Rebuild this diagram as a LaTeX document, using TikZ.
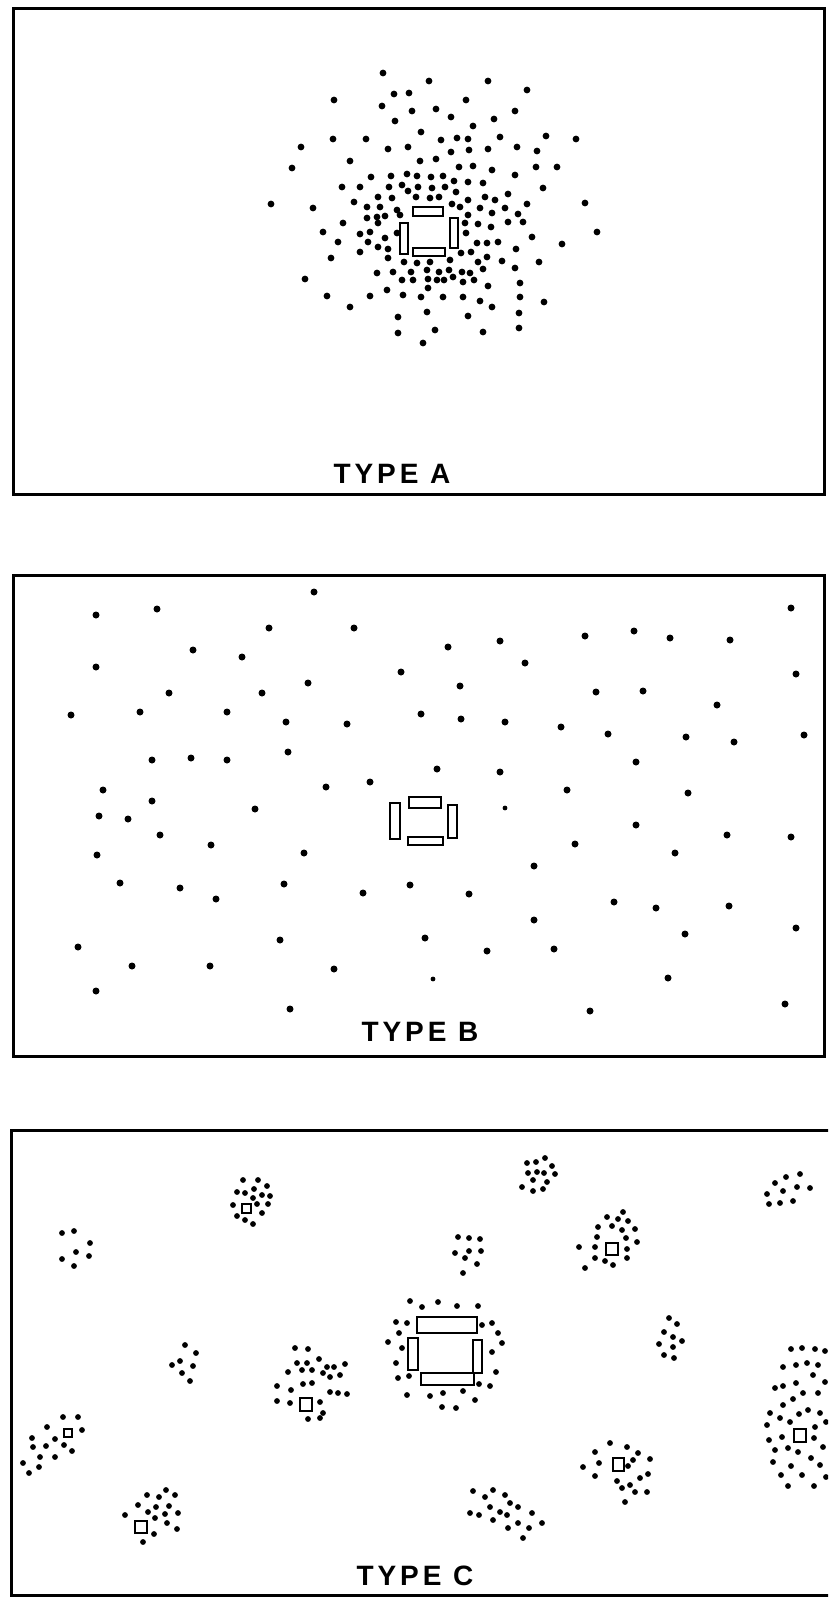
\documentclass[tikz,border=0pt]{standalone}
\usepackage{fontspec}
\newfontfamily\labfont[LetterSpace=14]{Liberation Sans}
\begin{document}
\begin{tikzpicture}[x=1pt,y=-1pt,
  panel/.style={draw=black,line width=3pt},
  lab/.style={font=\labfont\bfseries\fontsize{28}{28}\selectfont,inner sep=0pt,anchor=center},
  desk/.style={draw=black,line width=1.6pt,fill=white},
  deskc/.style={draw=black,line width=2pt,fill=white},
  dotfill/.style={fill=black}]
\useasboundingbox (0,0) rectangle (828,1598);
\clip (0,0) rectangle (828,1598);
\fill[white] (0,0) rectangle (828,1598);
% panels
\draw[panel] (13,8) rectangle (824,494);
\draw[panel] (13,575) rectangle (824,1056);
\draw[panel] (11,1130) rectangle (860,1595);
% ---------- TYPE A ----------
\foreach \x/\y in {383/73, 429/81, 488/81, 527/90, 334/100, 394/94, 409/93, 382/106, 466/100, 412/111, 436/109, 515/111, 451/117, 395/121, 494/119, 473/126, 421/132, 500/137, 546/136, 576/139, 333/139, 366/139, 441/140, 457/138, 468/139, 301/147, 388/149, 408/147, 451/152, 469/150, 488/149, 517/147, 537/151, 292/168, 350/161, 420/161, 436/159, 459/167, 473/166, 492/170, 515/175, 536/167, 557/167, 371/177, 391/176, 407/174, 417/176, 431/177, 443/176, 454/181, 468/182, 483/183, 342/187, 360/187, 389/187, 402/185, 418/187, 432/188, 445/187, 543/188, 508/194, 271/204, 313/208, 354/202, 378/197, 392/198, 408/191, 416/197, 430/198, 439/197, 456/192, 468/200, 485/197, 495/200, 527/204, 585/203, 367/207, 380/207, 397/210, 452/204, 460/207, 480/208, 492/213, 505/208, 377/217, 385/216, 367/218, 400/215, 468/215, 518/214, 343/223, 378/223, 465/223, 478/224, 491/227, 508/222, 523/222, 323/232, 360/234, 370/232, 385/238, 397/233, 466/233, 532/237, 597/232, 338/242, 368/242, 378/247, 388/249, 477/243, 487/243, 498/242, 562/244, 331/258, 360/252, 388/258, 404/262, 417/263, 430/262, 450/260, 461/253, 471/252, 478/262, 487/257, 502/261, 516/249, 539/262, 377/273, 393/272, 411/272, 427/270, 439/272, 449/270, 462/272, 470/273, 483/269, 515/268, 305/279, 402/280, 413/280, 428/279, 437/280, 444/280, 453/277, 463/282, 474/280, 488/286, 520/283, 327/296, 350/307, 370/296, 387/290, 403/295, 421/297, 428/288, 443/297, 463/297, 480/301, 492/307, 520/297, 544/302, 398/317, 427/312, 468/316, 519/313, 398/333, 435/330, 483/332, 519/328, 423/343}
  \fill[dotfill] (\x,\y) circle (3.4pt);
\draw[desk] (413,207) rectangle (443,216);
\draw[desk] (413,248) rectangle (445,256);
\draw[desk] (400,223) rectangle (408,254);
\draw[desk] (450,218) rectangle (458,248);
\node[lab] (labA) at (392,474) {TYPE A};
% ---------- TYPE B ----------
\foreach \x/\y in {314/592, 96/615, 157/609, 269/628, 354/628, 791/608, 193/650, 242/657, 448/647, 500/641, 585/636, 634/631, 670/638, 730/640, 96/667, 401/672, 525/663, 796/674, 308/683, 460/686, 169/693, 262/693, 596/692, 643/691, 717/705, 71/715, 140/712, 227/712, 421/714, 286/722, 347/724, 461/719, 505/722, 561/727, 608/734, 686/737, 734/742, 804/735, 152/760, 191/758, 227/760, 288/752, 636/762, 437/769, 500/772, 103/790, 152/801, 326/787, 370/782, 567/790, 688/793, 255/809, 99/816, 128/819, 160/835, 636/825, 727/835, 791/837, 211/845, 575/844, 97/855, 304/853, 675/853, 534/866, 120/883, 180/888, 216/899, 284/884, 363/893, 410/885, 469/894, 614/902, 656/908, 729/906, 534/920, 796/928, 685/934, 78/947, 280/940, 425/938, 487/951, 554/949, 132/966, 210/966, 334/969, 668/978, 96/991, 290/1009, 590/1011, 785/1004}
  \fill[dotfill] (\x,\y) circle (3.5pt);
\fill[dotfill] (505,808) circle (2.4pt);
\fill[dotfill] (433,979) circle (2.4pt);
\draw[desk] (409,797) rectangle (441,808);
\draw[desk] (408,837) rectangle (443,845);
\draw[desk] (390,803) rectangle (400,839);
\draw[desk] (448,805) rectangle (457,838);
\node[lab] (labB) at (420,1032) {TYPE B};
% ---------- TYPE C ----------
\foreach \x/\y in {
  62/1233, 74/1231, 90/1243, 76/1252, 62/1259, 89/1256, 74/1266,
  243/1180, 258/1180, 267/1186, 237/1192, 245/1193, 254/1189, 262/1195, 270/1196, 233/1205, 257/1204, 268/1204, 253/1198, 237/1216, 245/1220, 253/1224, 262/1213,
  185/1345, 196/1353, 180/1361, 172/1365, 193/1366, 182/1373, 190/1381,
  63/1417, 78/1417, 47/1427, 82/1430, 32/1438, 55/1439, 33/1447, 46/1446, 64/1445, 72/1451, 40/1457, 55/1457, 23/1463, 39/1467, 29/1473,
  166/1490, 147/1495, 159/1497, 175/1495, 138/1505, 156/1507, 169/1506, 148/1512, 178/1513, 125/1515, 155/1518, 165/1514, 167/1523, 177/1529, 154/1534, 143/1542,
  527/1163, 536/1162, 545/1158, 552/1166, 528/1173, 537/1172, 544/1173, 555/1174, 533/1180, 547/1182, 522/1187, 533/1191, 543/1189,
  458/1237, 469/1238, 480/1239, 455/1253, 469/1251, 481/1251, 465/1258, 477/1264, 463/1273,
  410/1301, 422/1307, 438/1302, 457/1306, 478/1306, 396/1322, 407/1323, 482/1325, 492/1323, 399/1333, 498/1333, 388/1342, 502/1343, 402/1348, 492/1352, 396/1363, 496/1372, 398/1378, 409/1376, 490/1386, 479/1384, 407/1395, 430/1396, 443/1393, 463/1391, 475/1400, 442/1407, 456/1408,
  295/1348, 308/1349, 319/1359, 297/1363, 307/1363, 327/1367, 334/1367, 345/1364, 288/1372, 302/1370, 312/1370, 323/1373, 340/1375, 330/1377, 277/1386, 291/1390, 303/1384, 312/1383, 330/1392, 338/1393, 347/1394, 277/1401, 290/1403, 320/1402, 323/1413, 308/1419, 320/1418,
  473/1491, 485/1497, 493/1490, 505/1495, 490/1507, 500/1512, 510/1503, 518/1507, 470/1513, 479/1515, 493/1520, 507/1515, 518/1523, 532/1513, 542/1523, 508/1528, 529/1528, 523/1538,
  623/1212, 607/1217, 618/1219, 628/1221, 598/1227, 612/1226, 622/1230, 635/1229, 597/1237, 626/1238, 637/1242, 579/1247, 595/1247, 627/1249, 595/1258, 605/1261, 627/1258, 613/1265, 585/1268,
  775/1183, 786/1177, 800/1174, 783/1191, 797/1187, 810/1188, 767/1194, 769/1204, 780/1203, 793/1201,
  669/1318, 677/1324, 664/1332, 673/1337, 682/1341, 659/1344, 673/1347, 664/1355, 674/1358,
  791/1349, 802/1348, 815/1349, 825/1351, 783/1367, 796/1365, 807/1363, 818/1365, 813/1375, 825/1382, 775/1388, 783/1386, 796/1383, 803/1393, 818/1393, 793/1399, 783/1405, 770/1413, 780/1418, 790/1422, 799/1414, 808/1410, 820/1413, 767/1425, 815/1427, 826/1422, 769/1440, 782/1437, 788/1448, 798/1452, 814/1438, 823/1447, 775/1450, 773/1462, 791/1466, 811/1458, 820/1465, 781/1475, 802/1475, 826/1477, 788/1486, 814/1486,
  610/1443, 595/1452, 627/1447, 638/1453, 599/1463, 583/1467, 650/1459, 633/1460, 595/1476, 628/1466, 640/1478, 648/1474, 617/1481, 622/1488, 630/1485, 635/1492, 647/1492, 625/1502}
  \fill[dotfill] (\x,\y) circle (2.9pt);
% small houses
\draw[line width=1.8pt] (242,1204) rectangle (251,1213);
\draw[line width=1.8pt] (64,1429) rectangle (72,1437);
\draw[line width=2pt] (135,1521) rectangle (147,1533);
\draw[line width=2pt] (300,1398) rectangle (312,1411);
\draw[line width=2pt] (606,1243) rectangle (618,1255);
\draw[line width=2pt] (794,1429) rectangle (806,1442);
\draw[line width=2pt] (613,1458) rectangle (624,1471);
% central big one
\draw[deskc] (417,1317) rectangle (477,1333);
\draw[deskc] (408,1338) rectangle (418,1370);
\draw[deskc] (473,1340) rectangle (482,1373);
\draw[deskc] (421,1373) rectangle (474,1385);
\node[lab] (labC) at (415,1576) {TYPE C};
\end{tikzpicture}
\end{document}
